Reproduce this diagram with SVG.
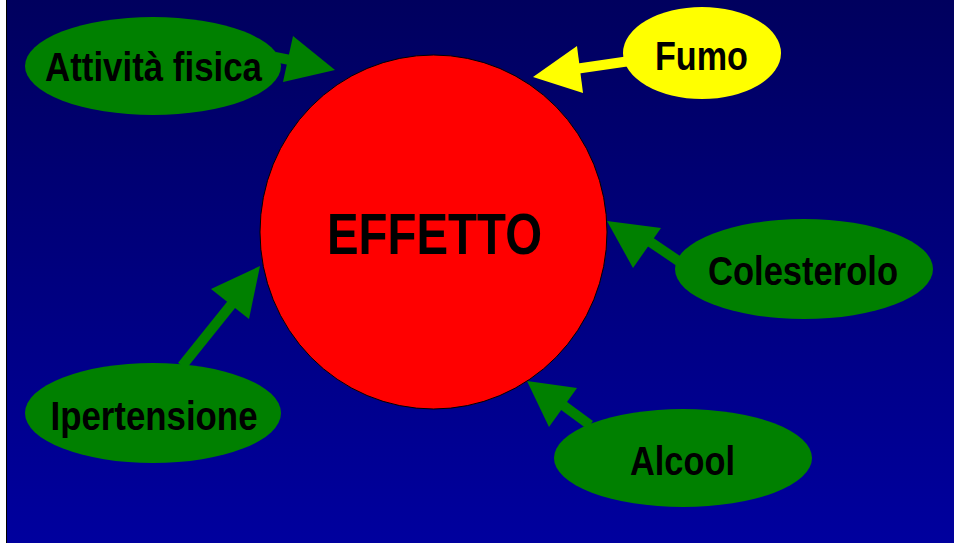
<svg xmlns="http://www.w3.org/2000/svg" width="954" height="543" viewBox="0 0 954 543">
<defs>
<linearGradient id="bg" x1="0" y1="0" x2="0" y2="1">
<stop offset="0" stop-color="#00005E"/>
<stop offset="1" stop-color="#00009E"/>
</linearGradient>
<style>
.lbl{font-family:"Liberation Sans",Arial,sans-serif;font-weight:bold;font-size:41px;fill:#000;text-anchor:middle}
.g{fill:#008000}
.y{fill:#FFFF00}
.gs{stroke:#008000;stroke-width:10;fill:none}
.ys{stroke:#FFFF00;stroke-width:10;fill:none}
</style>
</defs>
<rect x="0" y="0" width="954" height="543" fill="#FFFFFF"/>
<rect x="6" y="0" width="948" height="543" fill="#000000"/>
<rect x="7" y="0" width="947" height="543" fill="url(#bg)"/>
<g id="connectors">
<line class="gs" x1="275" y1="57" x2="295" y2="61"/>
<polygon class="g" points="335,70 293,36 283,82"/>
<line class="ys" x1="630" y1="61" x2="575" y2="69"/>
<polygon class="y" points="533,77 577,46 583,93"/>
<line class="gs" x1="680" y1="262" x2="640" y2="235"/>
<polygon class="g" points="607,221 661,228 633,268"/>
<line class="gs" x1="182" y1="366" x2="235" y2="300"/>
<polygon class="g" points="260,266 211,289 249,319"/>
<line class="gs" x1="590" y1="425" x2="556" y2="400"/>
<polygon class="g" points="527,381 577,388 549,427"/>
</g>
<g id="effetto">
<ellipse cx="433.5" cy="232" rx="173.5" ry="177" fill="#FF0000" stroke="#000" stroke-width="1"/>
<text class="lbl" x="434.5" y="254" style="font-size:57px" textLength="215" lengthAdjust="spacingAndGlyphs">EFFETTO</text>
</g>
<g id="attivita">
<ellipse class="g" cx="153" cy="66" rx="128" ry="49"/>
<text class="lbl" x="153.5" y="81" textLength="217" lengthAdjust="spacingAndGlyphs">Attività fisica</text>
</g>
<g id="fumo">
<ellipse class="y" cx="702" cy="53" rx="79" ry="46"/>
<text class="lbl" x="701.5" y="70" textLength="93" lengthAdjust="spacingAndGlyphs">Fumo</text>
</g>
<g id="colesterolo">
<ellipse class="g" cx="804" cy="269" rx="129" ry="50"/>
<text class="lbl" x="803" y="285" textLength="190" lengthAdjust="spacingAndGlyphs">Colesterolo</text>
</g>
<g id="ipertensione">
<ellipse class="g" cx="153" cy="413" rx="128" ry="50"/>
<text class="lbl" x="154" y="430" textLength="207" lengthAdjust="spacingAndGlyphs">Ipertensione</text>
</g>
<g id="alcool">
<ellipse class="g" cx="683" cy="458" rx="129" ry="49"/>
<text class="lbl" x="682.5" y="475" textLength="105" lengthAdjust="spacingAndGlyphs">Alcool</text>
</g>
</svg>
